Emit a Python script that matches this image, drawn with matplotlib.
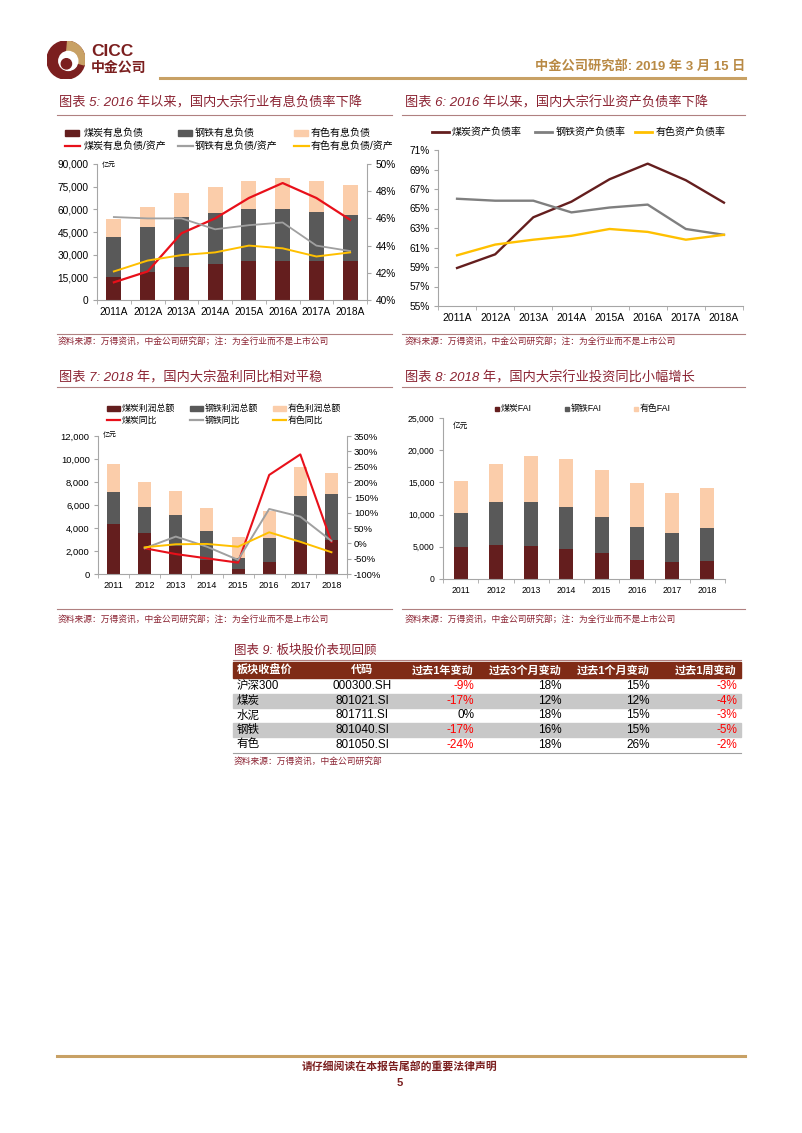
import numpy as np
import matplotlib
matplotlib.use("Agg")
import matplotlib.pyplot as plt
from matplotlib.lines import Line2D
from matplotlib.patches import Rectangle, Circle, Wedge
from matplotlib.ticker import FuncFormatter, FixedLocator

plt.rcParams['font.family'] = ['Liberation Sans', 'Noto Sans CJK SC', 'DejaVu Sans']
plt.rcParams['axes.unicode_minus'] = False

# ---------------- data ----------------
years_a = ['2011A', '2012A', '2013A', '2014A', '2015A', '2016A', '2017A', '2018A']
years = ['2011', '2012', '2013', '2014', '2015', '2016', '2017', '2018']

# chart 5: interest-bearing debt (亿元) and debt/asset (%)
coal_debt = [15000, 18500, 22000, 24000, 25500, 26000, 25500, 25500]
steel_debt = [27000, 30000, 33000, 33500, 34500, 34000, 33000, 30500]
nf_debt = [11500, 13000, 15500, 17500, 19000, 20500, 20500, 20000]
coal_debt_ratio = [41.3, 42.1, 44.9, 46.0, 47.5, 48.6, 47.5, 45.9]
steel_debt_ratio = [46.1, 46.0, 46.0, 45.2, 45.5, 45.7, 44.0, 43.6]
nf_debt_ratio = [42.1, 42.9, 43.3, 43.5, 44.0, 43.8, 43.2, 43.5]

# chart 6: asset-liability ratio (%)
coal_alr = [58.9, 60.3, 64.1, 65.7, 68.0, 69.6, 67.9, 65.6]
steel_alr = [66.0, 65.8, 65.8, 64.6, 65.1, 65.4, 62.9, 62.3]
nf_alr = [60.2, 61.3, 61.8, 62.2, 62.9, 62.6, 61.8, 62.3]

# chart 7: total profit (亿元) and yoy (%)
coal_profit = [4350, 3540, 2400, 1250, 450, 1070, 2780, 2960]
steel_profit = [2750, 2290, 2700, 2450, 950, 2030, 4000, 4000]
nf_profit = [2500, 2170, 2100, 2070, 1800, 2400, 2550, 1840]
coal_yoy = [np.nan, -16, -35, -49, -63, 223, 290, 5]
steel_yoy = [np.nan, -16, 22, -11, -54, 112, 87, 8]
nf_yoy = [np.nan, -13, -3, -2, -11, 36, 5, -29]

# chart 8: fixed asset investment (亿元)
coal_fai = [4900, 5300, 5200, 4700, 4000, 3000, 2700, 2850]
steel_fai = [5400, 6600, 6800, 6500, 5650, 5150, 4500, 5050]
nf_fai = [4950, 6000, 7150, 7400, 7200, 6750, 6100, 6300]

# table 9
table_header = ['板块收盘价', '代码', '过去1年变动', '过去3个月变动', '过去1个月变动', '过去1周变动']
sectors = ['沪深300', '煤炭', '水泥', '钢铁', '有色']
codes = ['000300.SH', '801021.SI', '801711.SI', '801040.SI', '801050.SI']
chg_1y = [-9, -17, 0, -17, -24]
chg_3m = [18, 12, 18, 16, 18]
chg_1m = [15, 12, 15, 15, 26]
chg_1w = [-3, -4, -3, -5, -2]

# ---------------- styles ----------------
W, H = 802, 1133
DARK_RED = '#7B1F1F'
TITLE_C = '#8B2332'
GOLD = '#C8A165'
C_COAL = '#641E1E'
C_STEEL = '#595959'
C_NF = '#FBCDAA'
L_RED = '#E8101A'
L_GRAY = '#A0A0A0'
L_YEL = '#FFC000'
AXC = '#A6A6A6'

fig = plt.figure(figsize=(W / 100, H / 100), dpi=100)


def axrect(x0, y0, x1, y1):
    return [x0 / W, 1 - y1 / H, (x1 - x0) / W, (y1 - y0) / H]


def T(x, y, s, **kw):
    kw.setdefault('va', 'center')
    return fig.text(x / W, 1 - y / H, s, **kw)


def hline(x0, x1, y, color, lw):
    fig.add_artist(Line2D([x0 / W, x1 / W], [1 - y / H, 1 - y / H], color=color, lw=lw,
                          transform=fig.transFigure))


def leg_patch(x, y, color, w=14, h=5.5):
    fig.add_artist(Rectangle((x / W, 1 - (y + h / 2) / H), w / W, h / H, color=color,
                             transform=fig.transFigure))


def leg_line(x, y, color, w=15, lw=1.6):
    hline(x, x + w, y, color, lw)


def style_cat_axis(ax, labels, fs):
    n = len(labels)
    ax.set_xlim(-0.5, n - 0.5)
    ax.set_xticks(np.arange(n))
    ax.set_xticklabels(labels, fontsize=fs)
    ax.xaxis.set_minor_locator(FixedLocator(np.arange(n + 1) - 0.5))
    ax.tick_params(axis='x', which='major', length=0, pad=5)
    ax.tick_params(axis='x', which='minor', length=3, color=AXC)
    for s in ['top', 'right']:
        ax.spines[s].set_visible(False)
    ax.spines['bottom'].set_color(AXC)
    ax.spines['left'].set_color(AXC)
    ax.tick_params(axis='y', length=3, color=AXC)
    ax.set_facecolor('none')


comma = FuncFormatter(lambda v, p: f'{int(v):,}')
pct = FuncFormatter(lambda v, p: f'{int(round(v))}%')

# ---------------- header ----------------
lax = fig.add_axes(axrect(47, 41, 85, 79))
lax.set_xlim(-1, 1); lax.set_ylim(-1, 1); lax.set_aspect('equal'); lax.axis('off')
lax.add_patch(Circle((0, 0), 1, color=DARK_RED))
lax.add_patch(Wedge((0, 0), 1, -15, 85, color=GOLD))
lax.add_patch(Circle((0.12, -0.05), 0.5, color='white'))
lax.add_patch(Circle((0.02, -0.2), 0.27, color=DARK_RED))
T(91, 51, 'CICC', fontsize=12.5, fontweight='bold', color=DARK_RED, ha='left')
T(91, 68, '中金公司', fontsize=10, fontweight='bold', color=DARK_RED, ha='left')
T(745, 66, '中金公司研究部: 2019 年 3 月 15 日', fontsize=9.5, fontweight='bold', color='#B98A45', ha='right')
hline(160, 745, 78, GOLD, 2.2)

# ---------------- chart 5 ----------------
T(59, 103, '图表 5: 2016 年以来，国内大宗行业有息负债率下降', fontsize=9.5, style='italic', color=TITLE_C, ha='left')
hline(57, 392, 115, '#B08080', 0.8)
leg_patch(65, 133, C_COAL); T(84, 133, '煤炭有息负债', fontsize=7.2, ha='left')
leg_patch(178, 133, C_STEEL); T(195, 133, '钢铁有息负债', fontsize=7.2, ha='left')
leg_patch(294, 133, C_NF); T(311, 133, '有色有息负债', fontsize=7.2, ha='left')
leg_line(65, 146, L_RED); T(84, 146, '煤炭有息负债/资产', fontsize=7.2, ha='left')
leg_line(178, 146, L_GRAY); T(195, 146, '钢铁有息负债/资产', fontsize=7.2, ha='left')
leg_line(294, 146, L_YEL); T(311, 146, '有色有息负债/资产', fontsize=7.2, ha='left')

ax = fig.add_axes(axrect(97, 164, 367, 300))
x = np.arange(len(years_a))
cd, sd, nd = map(np.array, (coal_debt, steel_debt, nf_debt))
ax.bar(x, cd, width=0.45, color=C_COAL)
ax.bar(x, sd, bottom=cd, width=0.45, color=C_STEEL)
ax.bar(x, nd, bottom=cd + sd, width=0.45, color=C_NF)
style_cat_axis(ax, years_a, 7.3)
ax.set_ylim(0, 90000)
ax.set_yticks(np.arange(0, 90001, 15000))
ax.yaxis.set_major_formatter(comma)
ax.tick_params(axis='y', labelsize=7.3, pad=3)
T(102, 166, '亿元', fontsize=5, ha='left')
ax2 = ax.twinx()
ax2.plot(x, coal_debt_ratio, color=L_RED, lw=1.6)
ax2.plot(x, steel_debt_ratio, color=L_GRAY, lw=1.3)
ax2.plot(x, nf_debt_ratio, color=L_YEL, lw=1.4)
ax2.set_ylim(40, 50)
ax2.set_yticks(np.arange(40, 51, 2))
ax2.yaxis.set_major_formatter(pct)
for s in ['top', 'left', 'bottom']:
    ax2.spines[s].set_visible(False)
ax2.spines['right'].set_color(AXC)
ax2.tick_params(axis='y', labelsize=7.3, length=3, color=AXC, pad=3)
hline(57, 392, 334, '#B08080', 0.8)
T(58, 341, '资料来源：万得资讯，中金公司研究部；注：为全行业而不是上市公司', fontsize=6.3, style='italic', color=TITLE_C, ha='left')

# ---------------- chart 6 ----------------
T(405, 103, '图表 6: 2016 年以来，国内大宗行业资产负债率下降', fontsize=9.5, style='italic', color=TITLE_C, ha='left')
hline(402, 745, 115, '#B08080', 0.8)
leg_line(432, 132, C_COAL, w=17, lw=2); T(452, 132, '煤炭资产负债率', fontsize=7.2, ha='left')
leg_line(535, 132, '#7F7F7F', w=17, lw=2); T(556, 132, '钢铁资产负债率', fontsize=7.2, ha='left')
leg_line(635, 132, L_YEL, w=17, lw=2); T(656, 132, '有色资产负债率', fontsize=7.2, ha='left')
ax = fig.add_axes(axrect(438, 150, 743, 306))
ax.plot(x, coal_alr, color=C_COAL, lw=1.7)
ax.plot(x, steel_alr, color='#7F7F7F', lw=1.7)
ax.plot(x, nf_alr, color=L_YEL, lw=1.7)
style_cat_axis(ax, years_a, 7.5)
ax.set_ylim(55, 71)
ax.set_yticks(np.arange(55, 72, 2))
ax.yaxis.set_major_formatter(pct)
ax.tick_params(axis='y', labelsize=7.3, pad=3)
hline(402, 745, 334, '#B08080', 0.8)
T(405, 341, '资料来源：万得资讯，中金公司研究部；注：为全行业而不是上市公司', fontsize=6.3, style='italic', color=TITLE_C, ha='left')

# ---------------- chart 7 ----------------
T(59, 378, '图表 7: 2018 年，国内大宗盈利同比相对平稳', fontsize=9.5, style='italic', color=TITLE_C, ha='left')
hline(57, 392, 387, '#B08080', 0.8)
leg_patch(107, 408, C_COAL, w=13, h=5); T(122, 408, '煤炭利润总额', fontsize=6.4, ha='left')
leg_patch(190, 408, C_STEEL, w=13, h=5); T(205, 408, '钢铁利润总额', fontsize=6.4, ha='left')
leg_patch(273, 408, C_NF, w=13, h=5); T(288, 408, '有色利润总额', fontsize=6.4, ha='left')
leg_line(107, 420, L_RED, w=13); T(122, 420, '煤炭同比', fontsize=6.4, ha='left')
leg_line(190, 420, L_GRAY, w=13); T(205, 420, '钢铁同比', fontsize=6.4, ha='left')
leg_line(273, 420, L_YEL, w=13); T(288, 420, '有色同比', fontsize=6.4, ha='left')
ax = fig.add_axes(axrect(98, 436, 347, 574))
cp, sp, npf = map(np.array, (coal_profit, steel_profit, nf_profit))
ax.bar(x, cp, width=0.42, color=C_COAL)
ax.bar(x, sp, bottom=cp, width=0.42, color=C_STEEL)
ax.bar(x, npf, bottom=cp + sp, width=0.42, color=C_NF)
style_cat_axis(ax, years, 6.6)
ax.set_ylim(0, 12000)
ax.set_yticks(np.arange(0, 12001, 2000))
ax.yaxis.set_major_formatter(comma)
ax.tick_params(axis='y', labelsize=6.8, pad=3)
T(103, 436, '亿元', fontsize=5, ha='left')
ax2 = ax.twinx()
ax2.plot(x, coal_yoy, color=L_RED, lw=1.5)
ax2.plot(x, steel_yoy, color=L_GRAY, lw=1.4)
ax2.plot(x, nf_yoy, color=L_YEL, lw=1.4)
ax2.set_ylim(-100, 350)
ax2.set_yticks(np.arange(-100, 351, 50))
ax2.yaxis.set_major_formatter(pct)
for s in ['top', 'left', 'bottom']:
    ax2.spines[s].set_visible(False)
ax2.spines['right'].set_color(AXC)
ax2.tick_params(axis='y', labelsize=6.8, length=3, color=AXC, pad=2)
hline(57, 392, 609, '#B08080', 0.8)
T(58, 619, '资料来源：万得资讯，中金公司研究部；注：为全行业而不是上市公司', fontsize=6.3, style='italic', color=TITLE_C, ha='left')

# ---------------- chart 8 ----------------
T(405, 378, '图表 8: 2018 年，国内大宗行业投资同比小幅增长', fontsize=9.5, style='italic', color=TITLE_C, ha='left')
hline(402, 745, 387, '#B08080', 0.8)
leg_patch(495, 409, C_COAL, w=4, h=4); T(501, 409, '煤炭FAI', fontsize=6.4, ha='left')
leg_patch(565, 409, C_STEEL, w=4, h=4); T(571, 409, '钢铁FAI', fontsize=6.4, ha='left')
leg_patch(634, 409, C_NF, w=4, h=4); T(640, 409, '有色FAI', fontsize=6.4, ha='left')
ax = fig.add_axes(axrect(443, 418, 725, 579))
cf, sf, nfa = map(np.array, (coal_fai, steel_fai, nf_fai))
ax.bar(x, cf, width=0.4, color=C_COAL)
ax.bar(x, sf, bottom=cf, width=0.4, color=C_STEEL)
ax.bar(x, nfa, bottom=cf + sf, width=0.4, color=C_NF)
style_cat_axis(ax, years, 6.2)
ax.set_ylim(0, 25000)
ax.set_yticks(np.arange(0, 25001, 5000))
ax.yaxis.set_major_formatter(comma)
ax.tick_params(axis='y', labelsize=6.2, pad=3)
T(453, 426, '亿元', fontsize=5.5, ha='left')
hline(402, 745, 609, '#B08080', 0.8)
T(405, 619, '资料来源：万得资讯，中金公司研究部；注：为全行业而不是上市公司', fontsize=6.3, style='italic', color=TITLE_C, ha='left')

# ---------------- table 9 ----------------
T(234, 650, '图表 9: 板块股价表现回顾', fontsize=9, style='italic', color=TITLE_C, ha='left')
hline(233, 741, 660, '#B08080', 0.8)
tx0, tx1 = 233, 741
fig.add_artist(Rectangle((tx0 / W, 1 - 678 / H), (tx1 - tx0) / W, 16 / H, color='#7F2B16',
                         transform=fig.transFigure))
col_x = [237, 362, 474, 562, 650, 737]
col_ha = ['left', 'center', 'right', 'right', 'right', 'right']
for cx, ha, s in zip(col_x, col_ha, table_header):
    T(cx, 670, s, fontsize=8, fontweight='bold', color='white', ha=ha)
row_y = [686, 701, 715.5, 730, 744.5]
for i, yy in enumerate(row_y):
    if i % 2 == 1:
        fig.add_artist(Rectangle((tx0 / W, 1 - (yy + 7.3) / H), (tx1 - tx0) / W, 14.6 / H,
                                 color='#C8C8C8', transform=fig.transFigure))
    vals = [chg_1y[i], chg_3m[i], chg_1m[i], chg_1w[i]]
    T(col_x[0], yy, sectors[i], fontsize=8.3, ha='left')
    T(col_x[1], yy, codes[i], fontsize=8.5, ha='center')
    for cx, v in zip(col_x[2:], vals):
        T(cx, yy, f'{v}%', fontsize=8.5, ha='right', color='#FF0000' if v < 0 else 'black')
hline(233, 741, 753, '#A0A0A0', 0.8)
T(234, 761, '资料来源：万得资讯，中金公司研究部', fontsize=6.3, style='italic', color=TITLE_C, ha='left')

# ---------------- footer ----------------
hline(57, 745, 1056, GOLD, 2.2)
T(400, 1066, '请仔细阅读在本报告尾部的重要法律声明', fontsize=7.8, fontweight='bold', color=DARK_RED, ha='center')
T(400, 1083, '5', fontsize=8, fontweight='bold', color=DARK_RED, ha='center')

fig.savefig('out.png', dpi=100)
